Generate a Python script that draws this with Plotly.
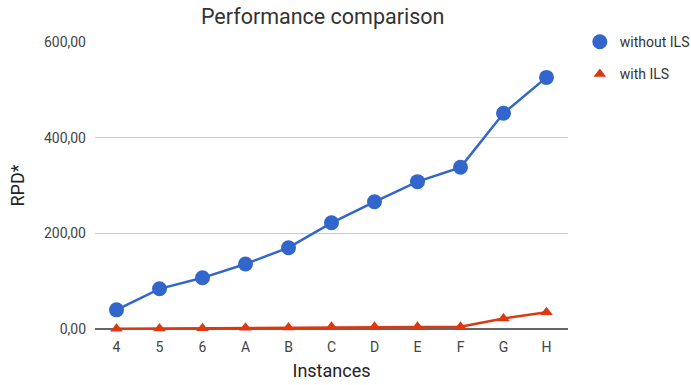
import plotly.graph_objects as go

instances = ["4", "5", "6", "A", "B", "C", "D", "E", "F", "G", "H"]
without_ils = [40, 84, 107, 136, 170, 222, 266, 308, 338, 451, 526]
with_ils = [0.5, 1, 1.5, 2.5, 3, 4.5, 4.5, 4.5, 4.5, 22, 35]
y_ticks = [0, 200, 400, 600]

BLUE = "#3366cc"
RED = "#dc3912"

fig = go.Figure()

fig.add_trace(go.Scatter(
    x=instances, y=without_ils, mode="lines+markers",
    line=dict(color=BLUE, width=2.5),
    marker=dict(color=BLUE, size=15, symbol="circle"),
    cliponaxis=False, showlegend=False, name="without ILS",
))
fig.add_trace(go.Scatter(
    x=instances, y=with_ils, mode="lines+markers",
    line=dict(color=RED, width=2.5),
    marker=dict(color=RED, size=11, symbol="triangle-up"),
    cliponaxis=False, showlegend=False, name="with ILS",
))

# legend entries show the marker only
fig.add_trace(go.Scatter(
    x=[None], y=[None], mode="markers", name="without ILS",
    marker=dict(color=BLUE, size=15, symbol="circle"), legendgroup="a",
))
fig.add_trace(go.Scatter(
    x=[None], y=[None], mode="markers", name="with ILS",
    marker=dict(color=RED, size=11, symbol="triangle-up"), legendgroup="b",
))

fig.update_layout(
    width=691, height=385,
    margin=dict(l=95, r=123, t=42, b=56, autoexpand=False),
    paper_bgcolor="white", plot_bgcolor="white",
    separators=",.",
    font=dict(family="Roboto, Arial, sans-serif", size=13, color="#444444"),
    title=dict(text="Performance comparison", x=0.467, xanchor="center",
               y=0.958, yanchor="middle",
               font=dict(size=21.5, color="#333333")),
    legend=dict(x=1.025, y=1.055, xanchor="left", yanchor="top",
                font=dict(size=14, color="#333333"),
                itemwidth=30, tracegroupgap=11, traceorder="grouped",
                bgcolor="rgba(0,0,0,0)"),
    xaxis=dict(
        type="category", categoryorder="array", categoryarray=instances,
        range=[-0.5, len(instances) - 0.5],
        showgrid=False, ticks="", showline=False,
        ticklabelstandoff=8,
        tickfont=dict(size=14, color="#444444"),
        title=dict(text="Instances", font=dict(size=18, color="#222222"), standoff=10),
    ),
    yaxis=dict(
        range=[0, 600], tickvals=y_ticks, tickformat=".2f",
        showgrid=True, gridcolor="#cccccc", gridwidth=1,
        zeroline=True, zerolinecolor="#666666", zerolinewidth=2,
        showline=False, ticks="",
        ticklabelstandoff=8,
        tickfont=dict(size=14, color="#444444"),
        title=dict(text="RPD*", font=dict(size=18, color="#222222"), standoff=14),
    ),
)

fig.write_html("out.html")
